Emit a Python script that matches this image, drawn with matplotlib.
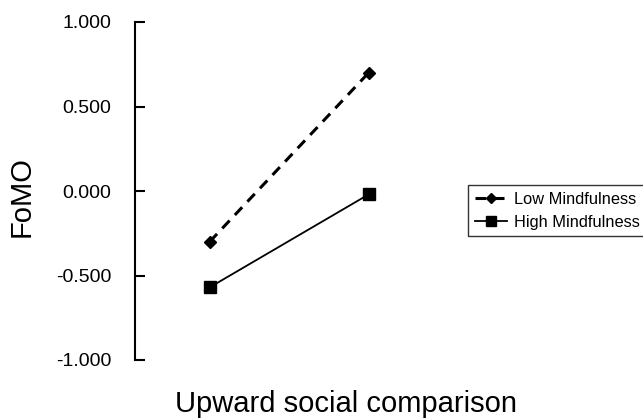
import matplotlib
matplotlib.use("Agg")
import matplotlib.pyplot as plt

plt.rcParams['font.family'] = ['Liberation Sans', 'DejaVu Sans']

x_pos = [0, 1]
low_mind = [-0.30, 0.70]
high_mind = [-0.57, -0.02]
yticks = [-1.0, -0.5, 0.0, 0.5, 1.0]
ytick_labels = ["-1.000", "-0.500", "0.000", "0.500", "1.000"]

fig = plt.figure(figsize=(6.43, 4.18), dpi=100)
ax = fig.add_axes([135/643, 1 - 360/418, 310/643, 338/418])

ax.plot(x_pos, low_mind, color='black', linestyle=(0, (3.5, 2.5)), linewidth=2.2,
        marker='D', markersize=6, label='Low Mindfulness')
ax.plot(x_pos, high_mind, color='black', linestyle='-', linewidth=1.3,
        marker='s', markersize=9, label='High Mindfulness')

ax.set_xlim(-0.47, 1.48)
ax.set_ylim(-1.0, 1.0)
ax.set_yticks(yticks)
ax.set_yticklabels(ytick_labels)
ax.set_xticks([])
for s in ['top', 'right', 'bottom']:
    ax.spines[s].set_visible(False)
ax.spines['left'].set_linewidth(1.5)
ax.spines['left'].set_bounds(-1.0, 1.0)
ax.tick_params(axis='y', direction='in', length=7, width=1.5, pad=17, labelsize=14)

ax.set_ylabel('FoMO', fontsize=21)
ax.yaxis.set_label_coords(-0.319, 0.485)
ax.set_xlabel('Upward social comparison', fontsize=21)
ax.xaxis.set_label_coords(0.68, -0.089)

leg = ax.legend(loc='upper left', bbox_to_anchor=(468/643, 1 - 185/418),
                bbox_transform=fig.transFigure, frameon=True, fancybox=False,
                fontsize=11.8, handlelength=2.0, borderpad=0.4, labelspacing=0.5,
                handletextpad=0.4, borderaxespad=0, markerscale=0.8)
leg.get_frame().set_edgecolor('black')
leg.get_frame().set_linewidth(1.0)

fig.savefig('out.png', dpi=100)
